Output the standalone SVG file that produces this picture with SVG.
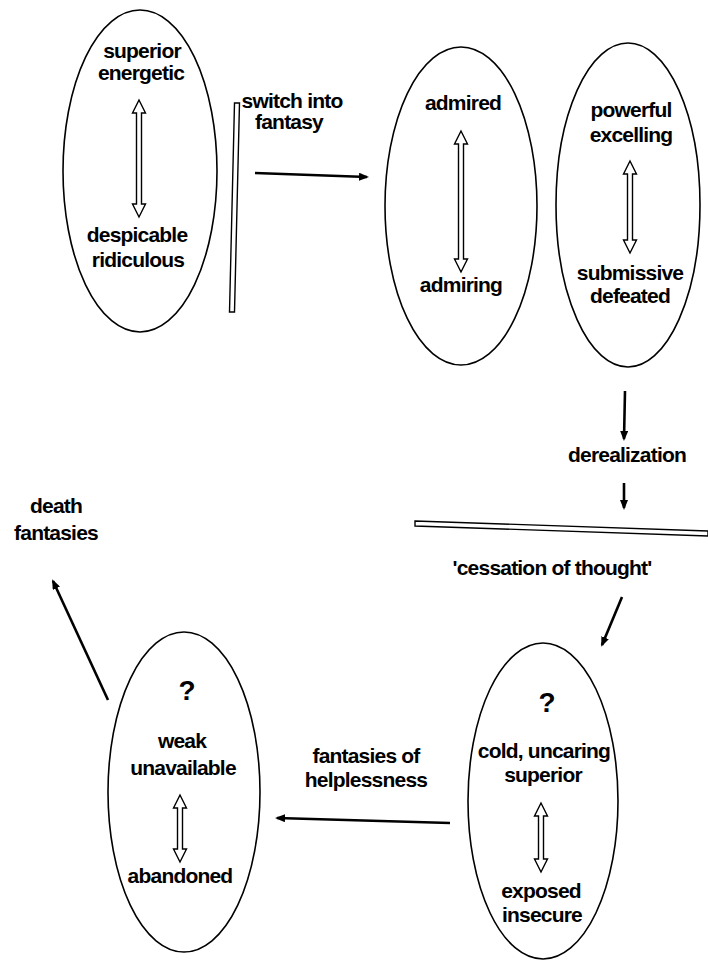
<svg xmlns="http://www.w3.org/2000/svg" width="708" height="961" viewBox="0 0 708 961">
<style>
.bg{fill:#ffffff}
.node ellipse{fill:none;stroke:#000;stroke-width:1.6}
.lbl{font-family:"Liberation Sans",Arial,sans-serif;font-weight:bold;font-size:21px;letter-spacing:-0.8px;fill:#000;text-anchor:middle}
.q{font-family:"Liberation Sans",Arial,sans-serif;font-weight:bold;font-size:28px;fill:#000;text-anchor:middle}
.dbl{fill:#fff;stroke:#000;stroke-width:1.4;stroke-linejoin:miter}
.bar{fill:#fff;stroke:#000;stroke-width:1.4}
.conn{stroke:#000;stroke-width:2.6;fill:none;marker-end:url(#ah)}
</style>
<defs>
<marker id="ah" markerUnits="userSpaceOnUse" markerWidth="10" markerHeight="8" refX="8" refY="4" orient="auto">
<path d="M0,0 L10,4 L0,8 z" fill="#000"/>
</marker>
</defs>
<rect class="bg" x="0" y="0" width="708" height="961"/>

<g id="node-real-self" class="node">
<ellipse cx="140" cy="171" rx="77" ry="161"/>
<text class="lbl" x="142" y="58">superior</text>
<text class="lbl" x="141" y="80">energetic</text>
<polygon class="dbl" points="139,100 145.5,113 141.5,113 141.5,204 145.5,204 139,217 132.5,204 136.5,204 136.5,113 132.5,113"/>
<text class="lbl" x="137" y="242">despicable</text>
<text class="lbl" x="138" y="267">ridiculous</text>
</g>

<g id="node-admired" class="node">
<ellipse cx="461" cy="206" rx="76" ry="159"/>
<text class="lbl" x="463" y="110">admired</text>
<polygon class="dbl" points="461,131 467.5,144 463.5,144 463.5,259 467.5,259 461,272 454.5,259 458.5,259 458.5,144 454.5,144"/>
<text class="lbl" x="461" y="292">admiring</text>
</g>

<g id="node-powerful" class="node">
<ellipse cx="628" cy="205" rx="72" ry="162"/>
<text class="lbl" x="631" y="117">powerful</text>
<text class="lbl" x="631" y="142">excelling</text>
<polygon class="dbl" points="630,161 636.5,174 632.5,174 632.5,240 636.5,240 630,253 623.5,240 627.5,240 627.5,174 623.5,174"/>
<text class="lbl" x="630" y="280">submissive</text>
<text class="lbl" x="630" y="303">defeated</text>
</g>

<g id="node-cold" class="node">
<ellipse cx="543" cy="801" rx="75" ry="158"/>
<text class="q" x="547" y="712">?</text>
<text class="lbl" x="544" y="758">cold, uncaring</text>
<text class="lbl" x="543" y="782">superior</text>
<polygon class="dbl" points="541,803 547.5,816 543.5,816 543.5,859 547.5,859 541,872 534.5,859 538.5,859 538.5,816 534.5,816"/>
<text class="lbl" x="541" y="898">exposed</text>
<text class="lbl" x="542" y="922">insecure</text>
</g>

<g id="node-weak" class="node">
<ellipse cx="184" cy="792" rx="76" ry="160"/>
<text class="q" x="187" y="700">?</text>
<text class="lbl" x="182" y="748">weak</text>
<text class="lbl" x="183" y="775">unavailable</text>
<polygon class="dbl" points="180,795 186.5,808 182.5,808 182.5,849 186.5,849 180,862 173.5,849 177.5,849 177.5,808 173.5,808"/>
<text class="lbl" x="180" y="883">abandoned</text>
</g>

<g id="barrier-fantasy">
<polygon class="bar" points="234.5,103 239.5,103 234.5,312 229.5,312"/>
</g>
<g id="barrier-cessation">
<polygon class="bar" points="415,521 708,531 708,536 415,526"/>
</g>

<g id="labels">
<text class="lbl" x="292" y="108">switch into</text>
<text class="lbl" x="289" y="129">fantasy</text>
<text class="lbl" x="627" y="462">derealization</text>
<text class="lbl" x="552" y="575">'cessation of thought'</text>
<text class="lbl" x="366" y="763">fantasies of</text>
<text class="lbl" x="366" y="787">helplessness</text>
<text class="lbl" x="56" y="513">death</text>
<text class="lbl" x="56" y="540">fantasies</text>
</g>

<g id="connectors">
<line class="conn" x1="255" y1="173" x2="367" y2="177"/>
<line class="conn" x1="625" y1="391" x2="624" y2="439"/>
<line class="conn" x1="624" y1="483" x2="624" y2="508"/>
<line class="conn" x1="622" y1="597" x2="602" y2="645"/>
<line class="conn" x1="450" y1="823" x2="277" y2="818"/>
<line class="conn" x1="108" y1="700" x2="53" y2="581"/>
</g>
</svg>
